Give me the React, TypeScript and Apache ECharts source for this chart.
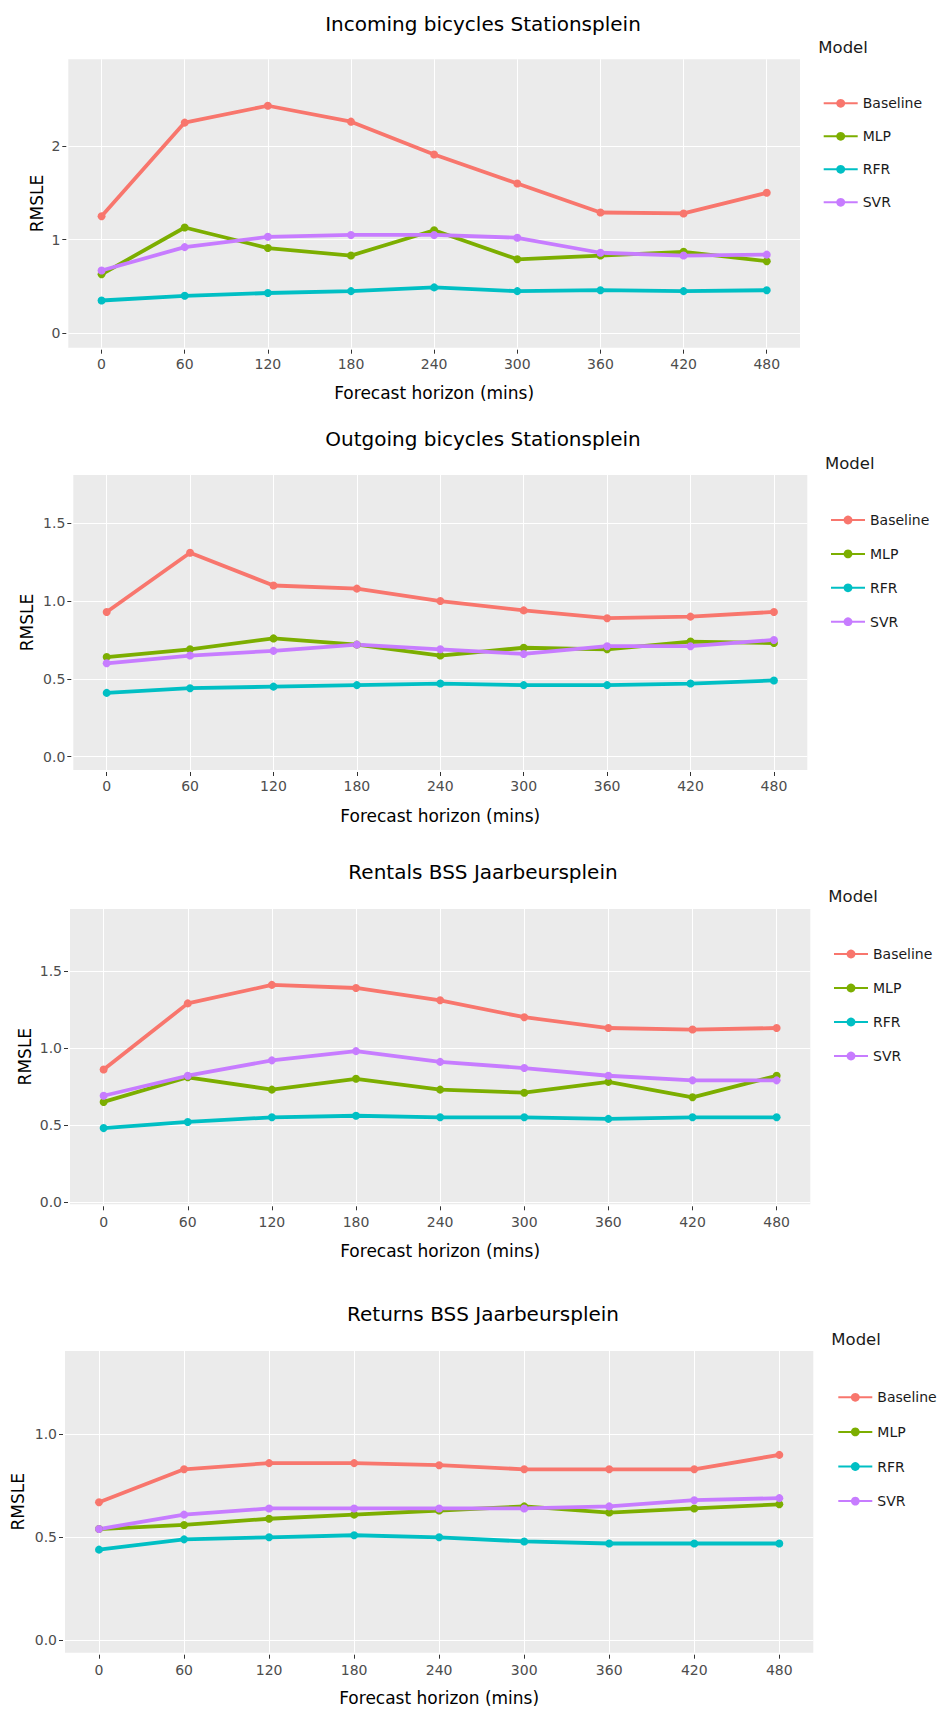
import React, { useEffect, useRef } from 'react';
import * as echarts from 'echarts';

// Forecast horizons (minutes) shared by every panel
const horizons = [0, 60, 120, 180, 240, 300, 360, 420, 480];
const models = ['Baseline', 'MLP', 'RFR', 'SVR'];
const modelColors = ['#F8766D', '#7CAE00', '#00BFC4', '#C77CFF'];

const panelTitles = [
  'Incoming bicycles Stationsplein',
  'Outgoing bicycles Stationsplein',
  'Rentals BSS Jaarbeursplein',
  'Returns BSS Jaarbeursplein',
];

// Incoming bicycles Stationsplein (RMSLE)
const inBaseline = [1.25, 2.25, 2.43, 2.26, 1.91, 1.6, 1.29, 1.28, 1.5];
const inMLP = [0.63, 1.13, 0.91, 0.83, 1.1, 0.79, 0.83, 0.87, 0.77];
const inRFR = [0.35, 0.4, 0.43, 0.45, 0.49, 0.45, 0.46, 0.45, 0.46];
const inSVR = [0.67, 0.92, 1.03, 1.05, 1.05, 1.02, 0.86, 0.83, 0.84];

// Outgoing bicycles Stationsplein (RMSLE)
const outBaseline = [0.93, 1.31, 1.1, 1.08, 1.0, 0.94, 0.89, 0.9, 0.93];
const outMLP = [0.64, 0.69, 0.76, 0.72, 0.65, 0.7, 0.69, 0.74, 0.73];
const outRFR = [0.41, 0.44, 0.45, 0.46, 0.47, 0.46, 0.46, 0.47, 0.49];
const outSVR = [0.6, 0.65, 0.68, 0.72, 0.69, 0.66, 0.71, 0.71, 0.75];

// Rentals BSS Jaarbeursplein (RMSLE)
const rentBaseline = [0.86, 1.29, 1.41, 1.39, 1.31, 1.2, 1.13, 1.12, 1.13];
const rentMLP = [0.65, 0.81, 0.73, 0.8, 0.73, 0.71, 0.78, 0.68, 0.82];
const rentRFR = [0.48, 0.52, 0.55, 0.56, 0.55, 0.55, 0.54, 0.55, 0.55];
const rentSVR = [0.69, 0.82, 0.92, 0.98, 0.91, 0.87, 0.82, 0.79, 0.79];

// Returns BSS Jaarbeursplein (RMSLE)
const retBaseline = [0.67, 0.83, 0.86, 0.86, 0.85, 0.83, 0.83, 0.83, 0.9];
const retMLP = [0.54, 0.56, 0.59, 0.61, 0.63, 0.65, 0.62, 0.64, 0.66];
const retRFR = [0.44, 0.49, 0.5, 0.51, 0.5, 0.48, 0.47, 0.47, 0.47];
const retSVR = [0.54, 0.61, 0.64, 0.64, 0.64, 0.64, 0.65, 0.68, 0.69];

// y-axis tick values per panel
const yTicksIncoming = [0, 1, 2];
const yTicksOutgoing = [0, 0.5, 1, 1.5];
const yTicksRentals = [0, 0.5, 1, 1.5];
const yTicksReturns = [0, 0.5, 1];

const panelSeries = [
  [inBaseline, inMLP, inRFR, inSVR],
  [outBaseline, outMLP, outRFR, outSVR],
  [rentBaseline, rentMLP, rentRFR, rentSVR],
  [retBaseline, retMLP, retRFR, retSVR],
];
const panelYTicks = [yTicksIncoming, yTicksOutgoing, yTicksRentals, yTicksReturns];
const panelYDecimals = [0, 1, 1, 1];

// Page layout of the four stacked panels (pixels)
const layout = [
  { left: 68.3, top: 59.3, width: 731.7, height: 288.4, yMin: -0.154, yMax: 2.926, titleY: 24, ylabX: 36.7, xlabY: 392.7, modelX: 818.3, modelY: 47.3, legLeft: 822.7, legTop: 96.3, legGap: 19, xMargin: 6.8 },
  { left: 73.3, top: 475, width: 734, height: 295, yMin: -0.0855, yMax: 1.81, titleY: 439, ylabX: 27.3, xlabY: 816, modelX: 825, modelY: 463.3, legLeft: 830, legTop: 513, legGap: 19.9, xMargin: 7.2 },
  { left: 70, top: 909, width: 740.3, height: 295.3, yMin: -0.015, yMax: 1.903, titleY: 872.3, ylabX: 25, xlabY: 1250.7, modelX: 828.3, modelY: 896.7, legLeft: 833, legTop: 947, legGap: 20, xMargin: 8.5 },
  { left: 65, top: 1351, width: 748.3, height: 301.7, yMin: -0.06, yMax: 1.404, titleY: 1314.3, ylabX: 18.3, xlabY: 1698.3, modelX: 831.3, modelY: 1339.3, legLeft: 837.3, legTop: 1390.3, legGap: 20.6, xMargin: 8.5 },
];

const FONT = '"DejaVu Sans", Verdana, sans-serif';

function buildOption() {
  const grid: any[] = [];
  const xAxis: any[] = [];
  const yAxis: any[] = [];
  const series: any[] = [];
  const legend: any[] = [];
  const graphic: any[] = [];

  layout.forEach((p, i) => {
    grid.push({
      left: p.left,
      top: p.top,
      width: p.width,
      height: p.height,
      show: true,
      backgroundColor: '#EBEBEB',
      borderWidth: 0,
    });
    xAxis.push({
      type: 'value',
      gridIndex: i,
      position: 'bottom',
      min: -24,
      max: 504,
      offset: 2,
      axisLine: { show: false, onZero: false },
      axisTick: { show: true, length: 4, customValues: horizons, lineStyle: { color: '#333333', width: 1 } },
      axisLabel: { customValues: horizons, margin: p.xMargin, fontSize: 14, color: '#4D4D4D', fontFamily: FONT },
      splitLine: { show: true, lineStyle: { color: '#FFFFFF', width: 1 } },
    });
    const ticks = panelYTicks[i];
    const dec = panelYDecimals[i];
    yAxis.push({
      type: 'value',
      gridIndex: i,
      position: 'left',
      min: p.yMin,
      max: p.yMax,
      offset: 2,
      axisLine: { show: false, onZero: false },
      axisTick: { show: true, length: 4, customValues: ticks, lineStyle: { color: '#333333', width: 1 } },
      axisLabel: {
        customValues: ticks,
        margin: 6,
        fontSize: 14,
        color: '#4D4D4D',
        fontFamily: FONT,
        formatter: (v: number) => v.toFixed(dec),
      },
      splitLine: { show: true, lineStyle: { color: '#FFFFFF', width: 1 } },
    });

    panelSeries[i].forEach((vals, j) => {
      series.push({
        type: 'line',
        name: models[j],
        xAxisIndex: i,
        yAxisIndex: i,
        data: horizons.map((h, k) => [h, vals[k]]),
        color: modelColors[j],
        lineStyle: { width: 3.8, color: modelColors[j] },
        itemStyle: { color: modelColors[j] },
        symbol: 'circle',
        symbolSize: 8,
        showSymbol: true,
        silent: true,
      });
    });

    legend.push({
      orient: 'vertical',
      left: p.legLeft,
      top: p.legTop,
      padding: 0,
      itemWidth: 34,
      itemHeight: 11,
      itemGap: p.legGap,
      selectedMode: false,
      data: models,
      textStyle: { fontSize: 14, color: '#1A1A1A', fontFamily: FONT },
    });

    const cx = p.left + p.width / 2;
    const cy = p.top + p.height / 2;
    graphic.push(
      {
        type: 'text',
        x: 483,
        y: p.titleY,
        style: { text: panelTitles[i], fontSize: 20, fill: '#000000', align: 'center', verticalAlign: 'middle', fontFamily: FONT },
      },
      {
        type: 'text',
        x: cx,
        y: p.xlabY,
        style: { text: 'Forecast horizon (mins)', fontSize: 17, fill: '#000000', align: 'center', verticalAlign: 'middle', fontFamily: FONT },
      },
      {
        type: 'text',
        x: p.ylabX,
        y: cy,
        rotation: Math.PI / 2,
        style: { text: 'RMSLE', fontSize: 17, fill: '#000000', align: 'center', verticalAlign: 'middle', fontFamily: FONT },
      },
      {
        type: 'text',
        x: p.modelX,
        y: p.modelY,
        style: { text: 'Model', fontSize: 16.5, fill: '#1A1A1A', align: 'left', verticalAlign: 'middle', fontFamily: FONT },
      }
    );
  });

  return {
    animation: false,
    backgroundColor: '#FFFFFF',
    textStyle: { fontFamily: FONT },
    grid,
    xAxis,
    yAxis,
    legend,
    series,
    graphic,
  };
}

export default function App() {
  const ref = useRef<HTMLDivElement>(null);

  useEffect(() => {
    document.body.style.margin = '0';
    if (!ref.current) return;
    const chart = echarts.init(ref.current, null, { renderer: 'svg' });
    chart.setOption(buildOption() as any);
    return () => chart.dispose();
  }, []);

  return (
    <div
      ref={ref}
      style={{ position: 'absolute', left: 0, top: 0, width: 941, height: 1710, background: '#FFFFFF' }}
    />
  );
}
